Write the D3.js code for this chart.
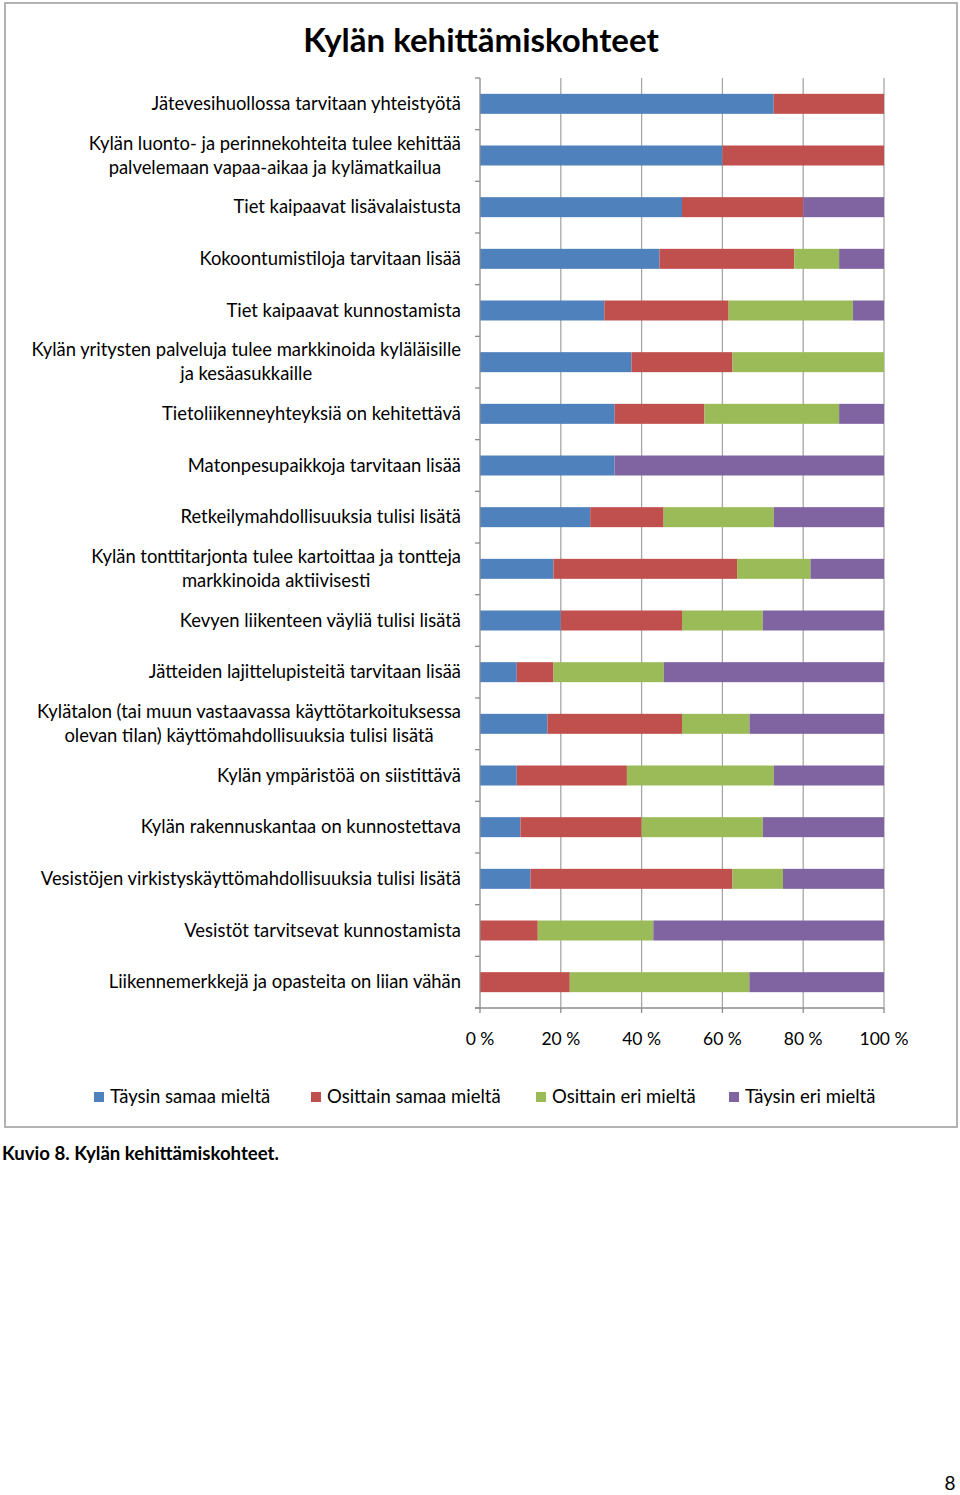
<!DOCTYPE html>
<html><head><meta charset="utf-8">
<script src="https://cdn.jsdelivr.net/npm/d3@7"></script>
<style>
body{margin:0;background:#fff;}
svg{display:block;font-family:Lato, "Open Sans", sans-serif;}
</style></head>
<body>
<svg id="c" width="960" height="1495"></svg>
<script>
const categories = [
  "Jätevesihuollossa tarvitaan yhteistyötä",
  "Kylän luonto- ja perinnekohteita tulee kehittää\npalvelemaan vapaa-aikaa ja kylämatkailua",
  "Tiet kaipaavat lisävalaistusta",
  "Kokoontumistiloja tarvitaan lisää",
  "Tiet kaipaavat kunnostamista",
  "Kylän yritysten palveluja tulee markkinoida kyläläisille\nja kesäasukkaille",
  "Tietoliikenneyhteyksiä on kehitettävä",
  "Matonpesupaikkoja tarvitaan lisää",
  "Retkeilymahdollisuuksia tulisi lisätä",
  "Kylän tonttitarjonta tulee kartoittaa ja tontteja\nmarkkinoida aktiivisesti",
  "Kevyen liikenteen väyliä tulisi lisätä",
  "Jätteiden lajittelupisteitä tarvitaan lisää",
  "Kylätalon (tai muun vastaavassa käyttötarkoituksessa\nolevan tilan) käyttömahdollisuuksia tulisi lisätä",
  "Kylän ympäristöä on siistittävä",
  "Kylän rakennuskantaa on kunnostettava",
  "Vesistöjen virkistyskäyttömahdollisuuksia tulisi lisätä",
  "Vesistöt tarvitsevat kunnostamista",
  "Liikennemerkkejä ja opasteita on liian vähän"
];
const seriesNames = ["Täysin samaa mieltä","Osittain samaa mieltä","Osittain eri mieltä","Täysin eri mieltä"];
const taysinSamaa   = [72.7, 60, 50, 44.4, 30.8, 37.5, 33.3, 33.3, 27.3, 18.2, 20, 9.1, 16.7, 9.1, 10, 12.5, 0, 0];
const osittainSamaa = [27.3, 40, 30, 33.3, 30.8, 25, 22.2, 0, 18.2, 45.5, 30, 9.1, 33.3, 27.3, 30, 50, 14.3, 22.2];
const osittainEri   = [0, 0, 0, 11.1, 30.8, 37.5, 33.3, 0, 27.3, 18.2, 20, 27.3, 16.7, 36.4, 30, 12.5, 28.6, 44.4];
const taysinEri     = [0, 0, 20, 11.1, 7.7, 0, 11.1, 66.7, 27.3, 18.2, 30, 54.5, 33.3, 27.3, 30, 25, 57.1, 33.3];
const tickValues = [0, 0.2, 0.4, 0.6, 0.8, 1];
const tickLabels = ["0 %","20 %","40 %","60 %","80 %","100 %"];
const colors = ["#4F81BD","#C0504D","#9BBB59","#8064A2"];

const svg = d3.select("#c");
// chart frame
svg.append("rect").attr("x",5).attr("y",3).attr("width",952).attr("height",1124)
  .attr("fill","#fff").attr("stroke","#b3b3b3").attr("stroke-width",2);

svg.append("text").attr("x",481).attr("y",52).attr("text-anchor","middle")
  .attr("font-size",33).attr("font-weight","bold").attr("fill","#000").text("Kylän kehittämiskohteet");

const x = d3.scaleLinear().domain([0,1]).range([480,884]);
const y = d3.scaleBand().domain(categories).range([78,1008]).paddingInner(0.613).paddingOuter(0.3065);

// gridlines
svg.append("g").selectAll("line").data(tickValues.slice(1)).join("line")
  .attr("x1",d=>x(d)).attr("x2",d=>x(d)).attr("y1",78).attr("y2",1008)
  .attr("stroke","#a6a6a6").attr("stroke-width",1.3);

// stack
const rows = categories.map((c,i)=>({cat:c, s0:taysinSamaa[i], s1:osittainSamaa[i], s2:osittainEri[i], s3:taysinEri[i]}));
const stack = d3.stack().keys(["s0","s1","s2","s3"]).offset(d3.stackOffsetExpand);
const layers = stack(rows);
svg.append("g").selectAll("g").data(layers).join("g").attr("fill",(d,i)=>colors[i])
  .selectAll("rect").data(d=>d).join("rect")
  .attr("x",d=>x(d[0])).attr("width",d=>Math.max(0,x(d[1])-x(d[0])))
  .attr("y",d=>y(d.data.cat)).attr("height",y.bandwidth());

// left axis
const step = y.step();
const ax = svg.append("g").attr("stroke","#8c8c8c").attr("stroke-width",1.3);
ax.append("line").attr("x1",480).attr("x2",480).attr("y1",78).attr("y2",1008);
d3.range(categories.length+1).forEach(i=>{
  const yy = 78 + i*step;
  ax.append("line").attr("x1",475).attr("x2",480).attr("y1",yy).attr("y2",yy);
});
// bottom axis
ax.append("line").attr("x1",475).attr("x2",884).attr("y1",1008).attr("y2",1008);
tickValues.forEach(v=>{
  ax.append("line").attr("x1",x(v)).attr("x2",x(v)).attr("y1",1008).attr("y2",1013);
});
svg.append("g").selectAll("text").data(tickValues).join("text")
  .attr("x",d=>x(d)).attr("y",1045).attr("text-anchor","middle").attr("font-size",17.5).attr("fill","#000")
  .text((d,i)=>tickLabels[i]);

// category labels
const lab = svg.append("g").attr("font-size",18.4).attr("fill","#000");
categories.forEach(c=>{
  const lines = c.split("\n");
  const cy = y(c) + y.bandwidth()/2;
  const g = lab.append("g");
  const ts = lines.map((l,k)=> g.append("text").attr("text-anchor","middle")
      .attr("y", cy + (k-(lines.length-1)/2)*24 + 6).text(l));
  const W = d3.max(ts, t=>t.node().getComputedTextLength());
  ts.forEach(t=>t.attr("x", 461 - W/2));
});

// legend
const legX = [94, 311, 536, 729];
const lg = svg.append("g");
seriesNames.forEach((n,i)=>{
  lg.append("rect").attr("x",legX[i]).attr("y",1092).attr("width",10).attr("height",10).attr("fill",colors[i]);
  lg.append("text").attr("x",legX[i]+16).attr("y",1103).attr("font-size",18.5).attr("fill","#000").text(n);
});

svg.append("text").attr("x",2).attr("y",1160).attr("font-size",18.6).attr("font-weight","bold").attr("fill","#000")
  .text("Kuvio 8. Kylän kehittämiskohteet.");
svg.append("text").attr("x",950).attr("y",1490).attr("text-anchor","middle").attr("font-size",19).attr("fill","#000").text("8");
</script>
</body></html>
